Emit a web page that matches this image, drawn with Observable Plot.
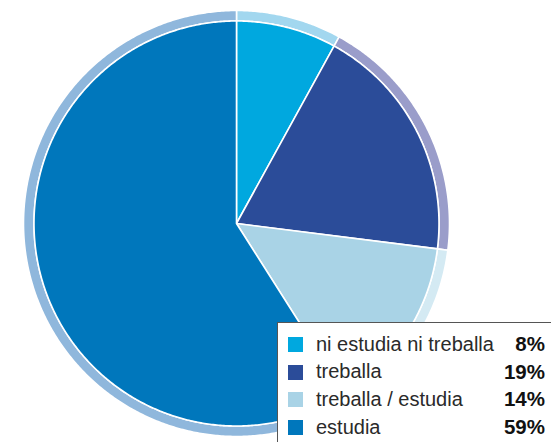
<!DOCTYPE html>
<html><head><meta charset="utf-8">
<script src="https://cdn.jsdelivr.net/npm/d3@7"></script>
<script src="https://cdn.jsdelivr.net/npm/@observablehq/plot@0.6"></script>
<style>
body{margin:0;background:#fff;}
#wrap{position:relative;width:551px;height:442px;overflow:hidden;font-family:"Liberation Sans",Arial,sans-serif;}
#legend{position:absolute;left:277px;top:322px;width:300px;height:140px;background:#fff;border-left:1.5px solid #555;border-top:1.5px solid #555;}
.row{position:absolute;left:0;width:267px;height:20px;}
.sw{position:absolute;left:10px;top:0;width:15px;height:15px;}
.lab{position:absolute;left:38px;top:-4.5px;font-size:20px;color:#2a2a2a;white-space:nowrap;}
.pct{position:absolute;right:0;top:-5px;font-size:20.5px;font-weight:bold;color:#111;}
</style></head>
<body><div id="wrap"><div id="chart"></div><div id="legend"></div></div>
<script>
const categories = ["ni estudia ni treballa", "treballa", "treballa / estudia", "estudia"];
const values = [8, 19, 14, 59];
const pctLabels = ["8%", "19%", "14%", "59%"];
const colors = ["#00a8df", "#2b4c99", "#a9d3e6", "#0077bc"];
const ringColors = ["#a2d7ef", "#9a9dca", "#d4eaf3", "#8fb7dc"];

const pieR = 0.9507, ringIn = 0.9507, ringOut = 1;
const arcs = d3.pie().sort(null).value(d => d)(values);
const pt = (a, r) => [r * Math.sin(a), r * Math.cos(a)];
function arcPts(a0, a1, r) {
  const n = Math.max(2, Math.ceil((a1 - a0) / (Math.PI / 360)));
  return d3.range(n + 1).map(i => pt(a0 + (a1 - a0) * i / n, r));
}
const slices = [], rings = [];
arcs.forEach((a, i) => {
  [[0, 0], ...arcPts(a.startAngle, a.endAngle, pieR)].forEach(p => slices.push({k: i, x: p[0], y: p[1], c: colors[i]}));
  [...arcPts(a.startAngle, a.endAngle, ringOut), ...arcPts(a.startAngle, a.endAngle, ringIn).reverse()]
    .forEach(p => rings.push({k: i, x: p[0], y: p[1], c: ringColors[i]}));
});

const chart = Plot.plot({
  width: 551, height: 442,
  marginLeft: 23, marginRight: 102, marginTop: 10, marginBottom: 6,
  x: {domain: [-1, 1], axis: null},
  y: {domain: [-1, 1], axis: null},
  color: {type: "identity"},
  marks: [
    Plot.line(rings, {x: "x", y: "y", z: "k", fill: "c", stroke: "white", strokeWidth: 1.6, curve: "linear-closed"}),
    Plot.line(slices, {x: "x", y: "y", z: "k", fill: "c", stroke: "white", strokeWidth: 1.6, curve: "linear-closed"})
  ]
});
document.getElementById("chart").appendChild(chart);

const leg = document.getElementById("legend");
categories.forEach((c, i) => {
  const row = document.createElement("div");
  row.className = "row";
  row.style.top = (14 + i * 27.7) + "px";
  row.innerHTML = `<div class="sw" style="background:${colors[i]}"></div><div class="lab">${c}</div><div class="pct">${pctLabels[i]}</div>`;
  leg.appendChild(row);
});
</script></body></html>
